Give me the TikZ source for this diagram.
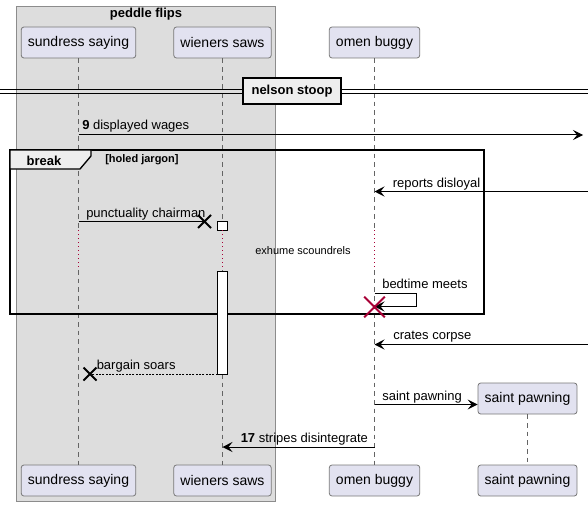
\documentclass[tikz,border=0pt]{standalone}
\usepackage{fontspec}
\setmainfont{Liberation Sans}
\usepackage{xcolor}
\definecolor{partfill}{RGB}{226,226,240}
\definecolor{partline}{RGB}{120,120,120}
\definecolor{groupfill}{RGB}{221,221,221}
\definecolor{groupline}{RGB}{140,140,140}
\definecolor{tabfill}{RGB}{238,238,238}
\definecolor{lifeline}{RGB}{100,100,100}
\definecolor{plumred}{RGB}{168,0,54}
\usepackage{tikz}
\usetikzlibrary{arrows.meta}
\usetikzlibrary{shapes.misc}

\tikzset{
  part/.style={draw=partline,fill=partfill,rounded corners=2pt,line width=0.6pt,
    minimum height=23.25pt,inner xsep=5pt,font=\fontsize{10.5}{12}\selectfont},
  msg/.style={line width=0.75pt,-{Stealth[length=7.5pt,width=7.5pt,inset=3pt]}},
  reply/.style={line width=0.75pt,dash pattern=on 1.5pt off 1pt},
  lbl/.style={anchor=base west,inner sep=0,font=\fontsize{9.75}{11}\selectfont},
  life/.style={draw=lifeline,line width=0.6pt,dash pattern=on 3.5pt off 3pt},
  delayline/.style={draw=plumred,line width=0.75pt,dash pattern=on 0.75pt off 2.25pt},
  kill/.style={draw,cross out,inner sep=0,minimum size=8.25pt,line width=1.5pt},
  bigkill/.style={draw=plumred,cross out,inner sep=0,minimum size=14pt,line width=1.5pt},
  boldtxt/.style={inner sep=0,font=\fontsize{9.75}{11}\selectfont\bfseries}
}

\begin{document}
\begin{tikzpicture}[x=0.75pt,y=-0.75pt]
\useasboundingbox (0,0) rectangle (588,506);

%group box
\draw[draw=groupline,fill=groupfill,line width=0.75pt] (16.5,6.5) rectangle (275.5,501.5);
\node (grp) at (146,18) [boldtxt,anchor=base] {peddle flips};

%participants
\foreach \n/\x/\t in {ss/78.5/sundress saying, ws/222.5/wieners saws, ob/374.5/omen buggy}{
  \node (\n-top) at (\x,42.5) [part] {\t};
  \node (\n-bot) at (\x,480.5) [part] {\t};
}
\node (sp-top) at (527.5,398.5) [part] {saint pawning};
\node (sp-bot) at (527.5,480.5) [part] {saint pawning};

%lifelines, cut by the delay
\foreach \n/\x in {ss/78.5, ws/222.5, ob/374.5}{
  \coordinate (\n-d1) at (\x,230);
  \coordinate (\n-d2) at (\x,270);
  \draw[life] (\n-top.south) -- (\n-d1);
  \draw[delayline] (\n-d1) -- (\n-d2);
  \draw[life] (\n-d2) -- (\n-bot.north);
}
\draw[life] (sp-top.south) -- (sp-bot.north);

%divider
\coordinate (divL1) at (0,90);
\coordinate (divR1) at (588,90);
\coordinate (divL2) at (0,93.3);
\coordinate (divR2) at (588,93.3);
\draw[line width=0.75pt] (divL1) -- (divR1);
\draw[line width=0.75pt] (divL2) -- (divR2);
\node (div) at (292,91) [draw,line width=1.5pt,fill=tabfill,minimum width=73.5pt,minimum height=19.5pt,boldtxt] {nelson stoop};

%message 9
\coordinate (m9a) at (78.5,135);
\coordinate (m9b) at (583,135);
\draw[msg] (m9a) -- (m9b);
\node (l9) at (82,130) [lbl] {\textbf{9} displayed wages};

%break frame
\draw[line width=1.5pt] (10,150) rectangle (483.5,314);
\draw[line width=1pt,fill=tabfill] (10,150) -- (91,150) -- (91,156) -- (80,169) -- (10,169) -- cycle;
\node (brk) at (44,165) [boldtxt,anchor=base] {break};
\node (grd) at (105,160) [inner sep=0,anchor=west,font=\fontsize{8.25}{10}\selectfont\bfseries] {[holed jargon]};

%reports disloyal
\coordinate (rdA) at (588,191.5);
\coordinate (rdB) at (374.5,191.5);
\draw[msg] (rdA) -- (rdB);
\node (lrd) at (392.5,187) [lbl] {reports disloyal};

%activation on wieners saws
\draw[fill=white,line width=0.75pt] (217.5,221.5) rectangle (227.5,230);
\draw[fill=white,line width=0.75pt] (217.5,271) rectangle (227.5,374);
\draw[delayline] (ws-d1) -- (ws-d2);

%punctuality chairman
\coordinate (pcA) at (78.5,221.5);
\node (x1) at (204.5,221.5) [kill] {};
\draw[line width=0.75pt] (pcA) -- (x1.center);
\node (lpc) at (86,217) [lbl] {punctuality chairman};

%delay
\node (dly) at (303,251) [inner sep=0,font=\fontsize{8.25}{10}\selectfont] {exhume scoundrels};

%bedtime meets
\coordinate (bmA) at (374.5,293.5);
\coordinate (bmB) at (416.5,293.5);
\coordinate (bmC) at (416.5,306.5);
\coordinate (bmD) at (374.5,306.5);
\draw[msg] (bmA) -- (bmB) -- (bmC) -- (bmD);
\node (lbm) at (382,288.5) [lbl] {bedtime meets};
\node (x2) at (374.5,307) [bigkill] {};

%crates corpse
\coordinate (ccA) at (588,344.5);
\coordinate (ccB) at (374.5,344.5);
\draw[msg] (ccA) -- (ccB);
\node (lcc) at (393,339) [lbl] {crates corpse};

%bargain soars
\coordinate (bsA) at (217.5,374);
\node (x3) at (90,374) [kill] {};
\draw[reply] (bsA) -- (x3.center);
\node (lbs) at (96.5,369.5) [lbl] {bargain soars};

%saint pawning
\coordinate (spA) at (374.5,404.5);
\draw[msg] (spA) -- (sp-top.west |- spA);
\node (lsp) at (382,400) [lbl] {saint pawning};

%message 17
\coordinate (m17a) at (374.5,447);
\coordinate (m17b) at (222.5,447);
\draw[msg] (m17a) -- (m17b);
\node (l17) at (240.5,442.5) [lbl] {\textbf{17} stripes disintegrate};

\end{tikzpicture}
\end{document}
